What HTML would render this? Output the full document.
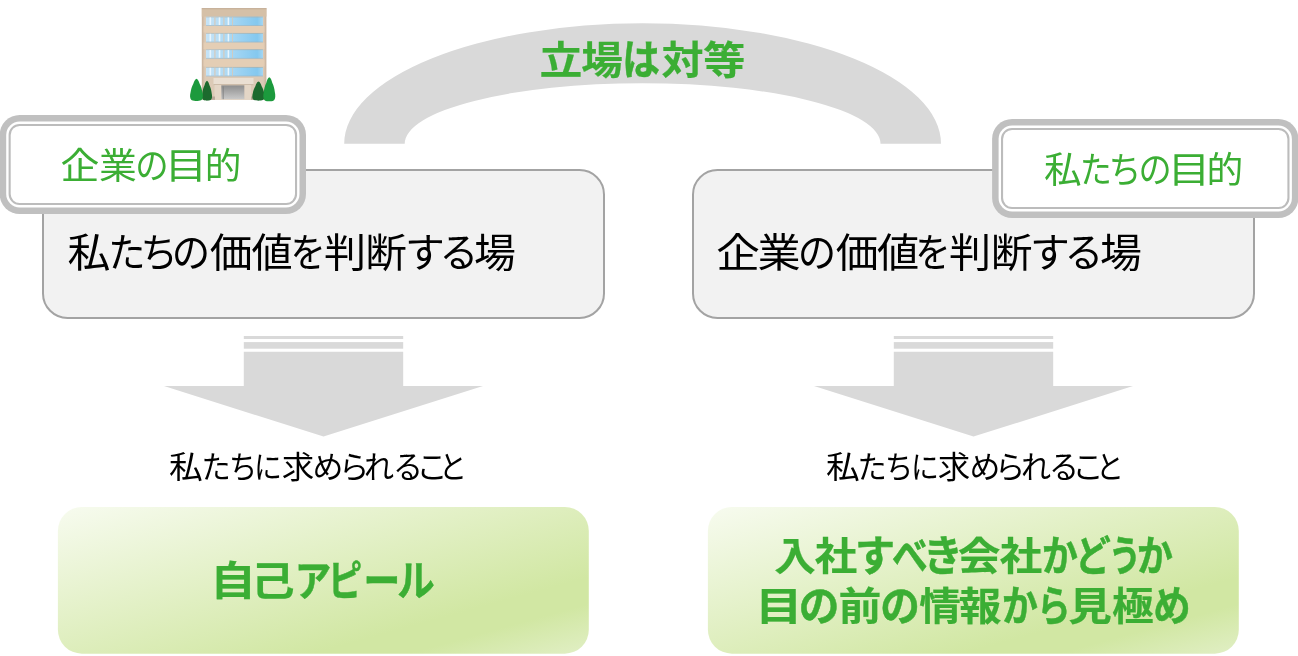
<!DOCTYPE html>
<html lang="ja">
<head>
<meta charset="utf-8">
<title>立場は対等</title>
<style>
html,body{margin:0;padding:0;background:#fff;}
body{width:1298px;height:656px;position:relative;overflow:hidden;font-family:"Liberation Sans","Noto Sans CJK JP",sans-serif;}
.ln{will-change:transform;position:absolute;left:0;width:1298px;height:1em;line-height:1;white-space:nowrap;}
.c{position:absolute;top:0;transform:translateX(-50%);display:block;transform-origin:50% 50%;}
.b{-webkit-text-stroke:0.22px currentColor;}
.b .k{-webkit-text-stroke:0.5px currentColor;}
svg{position:absolute;left:0;top:0;}
</style>
</head>
<body>
<svg width="1298" height="656" viewBox="0 0 1298 656">
  <!-- block arc -->
  <path d="M344.2 143.7 A298.4 120.4 0 0 1 941 143.7 L880.5 143.7 A237.9 60.55 0 0 0 404.7 143.7 Z" fill="#d9d9d9"/>
  <!--SHAPES-->
  <defs>
    <linearGradient id="gg" x1="0" y1="0" x2="1" y2="1">
      <stop offset="0" stop-color="#f7fbef"/><stop offset="0.74" stop-color="#d1e7a3"/><stop offset="0.83" stop-color="#d1e7a3"/><stop offset="1" stop-color="#e1efc5"/>
    </linearGradient>
    <g id="label">
      <rect x="0" y="0" width="306.3" height="99" rx="20" fill="#c0c0c0"/>
      <rect x="6.5" y="6.5" width="293.3" height="86" rx="13.5" fill="#fff"/>
      <rect x="9.95" y="9.95" width="286.4" height="79.1" rx="10" fill="none" stroke="#bcbcbc" stroke-width="2.1"/>
    </g>
  </defs>
  <rect x="43" y="170" width="561" height="148" rx="24.5" fill="#f2f2f2" stroke="#a3a3a3" stroke-width="2"/>
  <rect x="693" y="170" width="561" height="148" rx="24.5" fill="#f2f2f2" stroke="#a3a3a3" stroke-width="2"/>
  <use href="#label" x="-0.3" y="115"/>
  <use href="#label" x="992.1" y="119"/>
  <rect x="57.9" y="507" width="530.9" height="146.7" rx="24" fill="url(#gg)"/>
  <rect x="707.9" y="507" width="530.9" height="146.7" rx="24" fill="url(#gg)"/>
  <!--/SHAPES-->
  <!-- striped arrows -->
  <g id="arrow" fill="#d9d9d9">
    <rect x="243.8" y="336" width="159.4" height="3"/>
    <rect x="243.8" y="342.1" width="159.4" height="6.6"/>
    <path d="M243.8 351.7 H403.2 V386.1 H483 L323.5 436.6 L164 386.1 H243.8 Z"/>
  </g>
  <use href="#arrow" x="650"/>
  <!--BSTART-->
  <defs>
    <linearGradient id="win" x1="0" x2="1" y1="0" y2="0">
      <stop offset="0" stop-color="#c6e3f6"/><stop offset="0.42" stop-color="#a9d8f4"/><stop offset="0.9" stop-color="#84c8ef"/><stop offset="1" stop-color="#a5d6f2"/>
    </linearGradient>
    <linearGradient id="door" x1="0" x2="0" y1="0" y2="1">
      <stop offset="0" stop-color="#8e8e8e"/><stop offset="1" stop-color="#c9c9c9"/>
    </linearGradient>
    <linearGradient id="wall" x1="0" x2="1" y1="0" y2="0">
      <stop offset="0" stop-color="#c9b29c"/><stop offset="0.05" stop-color="#dccab6"/><stop offset="0.95" stop-color="#dccab6"/><stop offset="1" stop-color="#c9b29c"/>
    </linearGradient>
    <g id="winrow">
      <rect x="206" y="0" width="57" height="9.2" fill="url(#win)"/>
      <rect x="206" y="0" width="57" height="0.8" fill="#b9a791" opacity="0.6"/>
      <rect x="206" y="8.6" width="57" height="0.8" fill="#9fb3bd" opacity="0.7"/>
      <rect x="209.5" y="0.8" width="1.6" height="7.6" fill="#e9f5fc"/>
      <rect x="214.3" y="0.6" width="1.2" height="8.2" fill="#d9c8b5" opacity="0.9"/>
      <rect x="218.7" y="0.8" width="1.6" height="7.6" fill="#e9f5fc"/>
      <rect x="223.3" y="0.6" width="1.2" height="8.2" fill="#d9c8b5" opacity="0.9"/>
      <rect x="227.6" y="0.8" width="1.6" height="7.6" fill="#e9f5fc"/>
      <rect x="232" y="0.6" width="1" height="8.2" fill="#d9c8b5" opacity="0.8"/>
    </g>
    <path id="tree" d="M0 -22 C1.6 -21.5 2.4 -19 3.2 -16.5 C4.6 -14 5.4 -11 5.8 -8 C6.6 -5 6.6 -1.8 5 -0.2 C3.2 1 1.4 0.5 0 0.9 C-1.4 0.5 -3.2 1 -5 -0.2 C-6.6 -1.8 -6.6 -5 -5.8 -8 C-5.4 -11 -4.6 -14 -3.2 -16.5 C-2.4 -19 -1.6 -21.5 0 -22 Z"/>
  </defs>
  <filter id="bl" x="-10%" y="-10%" width="120%" height="120%"><feGaussianBlur stdDeviation="0.6"/></filter>
  <g id="building" filter="url(#bl)">
    <rect x="201.8" y="8.2" width="64.6" height="91.6" fill="url(#wall)"/>
    <rect x="201.8" y="8.2" width="64.6" height="8.4" fill="#d5c0a7"/>
    <rect x="201.8" y="8.2" width="64.6" height="1" fill="#c4ad97"/>
    <rect x="203.5" y="26" width="61" height="6.5" fill="#e7cfb4" opacity="0.75"/>
    <rect x="203.5" y="42.6" width="61" height="6.5" fill="#e7cfb4" opacity="0.75"/>
    <rect x="203.5" y="59.4" width="61" height="7" fill="#e7cfb4" opacity="0.75"/>
    <use href="#winrow" y="16.6"/>
    <use href="#winrow" y="33"/>
    <use href="#winrow" y="49.3"/>
    <use href="#winrow" y="67"/>
    <rect x="213.5" y="78" width="40" height="6.4" fill="#eadfd2"/>
    <rect x="213.5" y="84" width="40" height="1.2" fill="#cdbca9"/>
    <rect x="214.5" y="85" width="6.8" height="14.8" fill="#e4d6c6"/>
    <rect x="244.3" y="85" width="6.8" height="14.8" fill="#e4d6c6"/>
    <rect x="221.3" y="85.4" width="23" height="13.8" fill="url(#door)"/>
    <rect x="222.6" y="86.4" width="1.2" height="12.8" fill="#7d7d7d" opacity="0.7"/>
    <rect x="205" y="96.5" width="10" height="3.3" fill="#b9a999"/>
    <rect x="251" y="96.5" width="12" height="3.3" fill="#b9a999"/>
    <use href="#tree" transform="translate(207,100) scale(0.8,0.88)" fill="#1c6a2d"/>
    <use href="#tree" transform="translate(196.5,100.2) scale(1.02,0.98)" fill="#1d9a3c"/>
    <use href="#tree" transform="translate(258.5,100) scale(0.98,0.84)" fill="#1c6a2d"/>
    <use href="#tree" transform="translate(269.3,100.4) scale(0.95,1.05)" fill="#1d9a3c"/>
  </g>
<!--BEND-->
</svg>
<div class="ln b" role="text" aria-label="立場は対等" style="top:39.87px;font-size:42.0px;font-weight:700;color:#3bae34"><span class="c" style="left:561.28px;transform:translateX(-50%) scale(1.020,0.930)">立</span><span class="c" style="left:602.43px;transform:translateX(-50%) scale(0.991,0.930)">場</span><span class="c k" style="left:641.24px;transform:translateX(-50%) scale(0.896,0.995)">は</span><span class="c" style="left:682.51px;transform:translateX(-50%) scale(1.000,0.930)">対</span><span class="c" style="left:724.16px;transform:translateX(-50%) scale(1.000,0.930)">等</span></div>
<div class="ln" role="text" aria-label="企業の目的" style="top:147.94px;font-size:37.4px;font-weight:400;color:#3bae34"><span class="c" style="left:80.35px;transform:translateX(-50%) scale(1.040,0.962)">企</span><span class="c" style="left:117.70px;transform:translateX(-50%) scale(1.012,0.962)">業</span><span class="c k" style="left:152.02px;transform:translateX(-50%) scale(0.894,0.962)">の</span><span class="c" style="left:186.34px;transform:translateX(-50%) scale(1.137,0.962)">目</span><span class="c" style="left:223.16px;transform:translateX(-50%) scale(0.981,0.962)">的</span></div>
<div class="ln" role="text" aria-label="私たちの目的" style="top:151.94px;font-size:37.4px;font-weight:400;color:#3bae34"><span class="c" style="left:1063.01px;transform:translateX(-50%) scale(1.011,0.962)">私</span><span class="c k" style="left:1095.90px;transform:translateX(-50%) scale(0.850,0.962)">た</span><span class="c k" style="left:1124.96px;transform:translateX(-50%) scale(0.869,0.962)">ち</span><span class="c k" style="left:1154.62px;transform:translateX(-50%) scale(0.888,0.962)">の</span><span class="c" style="left:1188.69px;transform:translateX(-50%) scale(1.141,0.962)">目</span><span class="c" style="left:1225.41px;transform:translateX(-50%) scale(0.984,0.962)">的</span></div>
<div class="ln" role="text" aria-label="私たちの価値を判断する場" style="top:232.96px;font-size:41.6px;font-weight:400;color:#000"><span class="c" style="left:89.49px;transform:translateX(-50%) scale(1.037,0.957)">私</span><span class="c k" style="left:126.63px;transform:translateX(-50%) scale(0.896,0.957)">た</span><span class="c k" style="left:159.37px;transform:translateX(-50%) scale(0.895,0.957)">ち</span><span class="c k" style="left:191.35px;transform:translateX(-50%) scale(0.924,0.957)">の</span><span class="c" style="left:231.30px;transform:translateX(-50%) scale(1.027,0.957)">価</span><span class="c" style="left:272.12px;transform:translateX(-50%) scale(0.989,0.957)">値</span><span class="c k" style="left:308.11px;transform:translateX(-50%) scale(0.846,0.957)">を</span><span class="c" style="left:344.87px;transform:translateX(-50%) scale(1.014,0.957)">判</span><span class="c" style="left:386.31px;transform:translateX(-50%) scale(0.997,0.957)">断</span><span class="c k" style="left:424.60px;transform:translateX(-50%) scale(0.958,0.957)">す</span><span class="c k" style="left:458.58px;transform:translateX(-50%) scale(0.933,0.957)">る</span><span class="c" style="left:495.46px;transform:translateX(-50%) scale(1.008,0.957)">場</span></div>
<div class="ln" role="text" aria-label="企業の価値を判断する場" style="top:232.96px;font-size:41.6px;font-weight:400;color:#000"><span class="c" style="left:737.83px;transform:translateX(-50%) scale(1.048,0.957)">企</span><span class="c" style="left:778.98px;transform:translateX(-50%) scale(1.038,0.957)">業</span><span class="c k" style="left:817.45px;transform:translateX(-50%) scale(0.924,0.957)">の</span><span class="c" style="left:856.50px;transform:translateX(-50%) scale(1.027,0.957)">価</span><span class="c" style="left:897.84px;transform:translateX(-50%) scale(1.014,0.957)">値</span><span class="c k" style="left:933.46px;transform:translateX(-50%) scale(0.849,0.957)">を</span><span class="c" style="left:970.27px;transform:translateX(-50%) scale(1.014,0.957)">判</span><span class="c" style="left:1011.65px;transform:translateX(-50%) scale(1.000,0.957)">断</span><span class="c k" style="left:1050.00px;transform:translateX(-50%) scale(0.958,0.957)">す</span><span class="c k" style="left:1083.98px;transform:translateX(-50%) scale(0.933,0.957)">る</span><span class="c" style="left:1120.86px;transform:translateX(-50%) scale(1.008,0.957)">場</span></div>
<div class="ln" role="text" aria-label="私たちに求められること" style="top:450.90px;font-size:32.0px;font-weight:400;color:#000"><span class="c" style="left:186.39px;transform:translateX(-50%) scale(1.059,0.955)">私</span><span class="c k" style="left:216.04px;transform:translateX(-50%) scale(0.913,0.955)">た</span><span class="c k" style="left:242.61px;transform:translateX(-50%) scale(0.880,0.955)">ち</span><span class="c k" style="left:268.48px;transform:translateX(-50%) scale(0.873,0.955)">に</span><span class="c" style="left:297.68px;transform:translateX(-50%) scale(1.015,0.955)">求</span><span class="c k" style="left:328.28px;transform:translateX(-50%) scale(0.964,0.955)">め</span><span class="c k" style="left:353.59px;transform:translateX(-50%) scale(0.944,0.955)">ら</span><span class="c k" style="left:379.49px;transform:translateX(-50%) scale(0.939,0.955)">れ</span><span class="c k" style="left:407.76px;transform:translateX(-50%) scale(0.935,0.955)">る</span><span class="c k" style="left:431.93px;transform:translateX(-50%) scale(0.984,0.955)">こ</span><span class="c k" style="left:453.30px;transform:translateX(-50%) scale(0.873,0.955)">と</span></div>
<div class="ln" role="text" aria-label="私たちに求められること" style="top:450.90px;font-size:32.0px;font-weight:400;color:#000"><span class="c" style="left:842.79px;transform:translateX(-50%) scale(1.059,0.955)">私</span><span class="c k" style="left:872.44px;transform:translateX(-50%) scale(0.913,0.955)">た</span><span class="c k" style="left:899.01px;transform:translateX(-50%) scale(0.880,0.955)">ち</span><span class="c k" style="left:924.88px;transform:translateX(-50%) scale(0.873,0.955)">に</span><span class="c" style="left:954.08px;transform:translateX(-50%) scale(1.015,0.955)">求</span><span class="c k" style="left:984.68px;transform:translateX(-50%) scale(0.964,0.955)">め</span><span class="c k" style="left:1009.99px;transform:translateX(-50%) scale(0.944,0.955)">ら</span><span class="c k" style="left:1035.89px;transform:translateX(-50%) scale(0.939,0.955)">れ</span><span class="c k" style="left:1064.16px;transform:translateX(-50%) scale(0.935,0.955)">る</span><span class="c k" style="left:1088.33px;transform:translateX(-50%) scale(0.984,0.955)">こ</span><span class="c k" style="left:1109.70px;transform:translateX(-50%) scale(0.873,0.955)">と</span></div>
<div class="ln b" role="text" aria-label="自己アピール" style="top:560.92px;font-size:42.4px;font-weight:700;color:#3bae34"><span class="c" style="left:233.32px;transform:translateX(-50%) scale(1.074,0.935)">自</span><span class="c" style="left:273.27px;transform:translateX(-50%) scale(1.021,0.935)">己</span><span class="c k" style="left:313.37px;transform:translateX(-50%) scale(0.862,1.000)">ア</span><span class="c k" style="left:344.54px;transform:translateX(-50%) scale(0.806,1.000)">ピ</span><span class="c k" style="left:381.50px;transform:translateX(-50%) scale(0.867,1.000)">ー</span><span class="c k" style="left:416.49px;transform:translateX(-50%) scale(0.884,1.000)">ル</span></div>
<div class="ln b" role="text" aria-label="入社すべき会社かどうか" style="top:536.29px;font-size:42.0px;font-weight:700;color:#3bae34"><span class="c" style="left:794.51px;transform:translateX(-50%) scale(0.992,0.930)">入</span><span class="c" style="left:836.48px;transform:translateX(-50%) scale(1.011,0.930)">社</span><span class="c k" style="left:874.68px;transform:translateX(-50%) scale(0.955,0.995)">す</span><span class="c k" style="left:909.61px;transform:translateX(-50%) scale(0.852,0.995)">べ</span><span class="c k" style="left:942.65px;transform:translateX(-50%) scale(0.952,0.995)">き</span><span class="c" style="left:979.30px;transform:translateX(-50%) scale(1.017,0.930)">会</span><span class="c" style="left:1021.28px;transform:translateX(-50%) scale(1.011,0.930)">社</span><span class="c k" style="left:1060.32px;transform:translateX(-50%) scale(0.854,0.995)">か</span><span class="c k" style="left:1092.88px;transform:translateX(-50%) scale(0.846,0.995)">ど</span><span class="c k" style="left:1125.19px;transform:translateX(-50%) scale(0.772,0.995)">う</span><span class="c k" style="left:1154.62px;transform:translateX(-50%) scale(0.854,0.995)">か</span></div>
<div class="ln b" role="text" aria-label="目の前の情報から見極め" style="top:586.38px;font-size:42.0px;font-weight:700;color:#3bae34"><span class="c" style="left:779.30px;transform:translateX(-50%) scale(1.126,0.930)">目</span><span class="c k" style="left:819.38px;transform:translateX(-50%) scale(0.968,0.995)">の</span><span class="c" style="left:859.51px;transform:translateX(-50%) scale(1.021,0.930)">前</span><span class="c k" style="left:899.83px;transform:translateX(-50%) scale(0.943,0.995)">の</span><span class="c" style="left:939.71px;transform:translateX(-50%) scale(0.992,0.930)">情</span><span class="c" style="left:980.30px;transform:translateX(-50%) scale(1.017,0.930)">報</span><span class="c k" style="left:1019.62px;transform:translateX(-50%) scale(0.854,0.995)">か</span><span class="c k" style="left:1054.01px;transform:translateX(-50%) scale(0.793,0.995)">ら</span><span class="c" style="left:1090.43px;transform:translateX(-50%) scale(1.037,0.930)">見</span><span class="c" style="left:1132.61px;transform:translateX(-50%) scale(0.995,0.930)">極</span><span class="c k" style="left:1171.57px;transform:translateX(-50%) scale(0.891,0.995)">め</span></div>
</body>
</html>
